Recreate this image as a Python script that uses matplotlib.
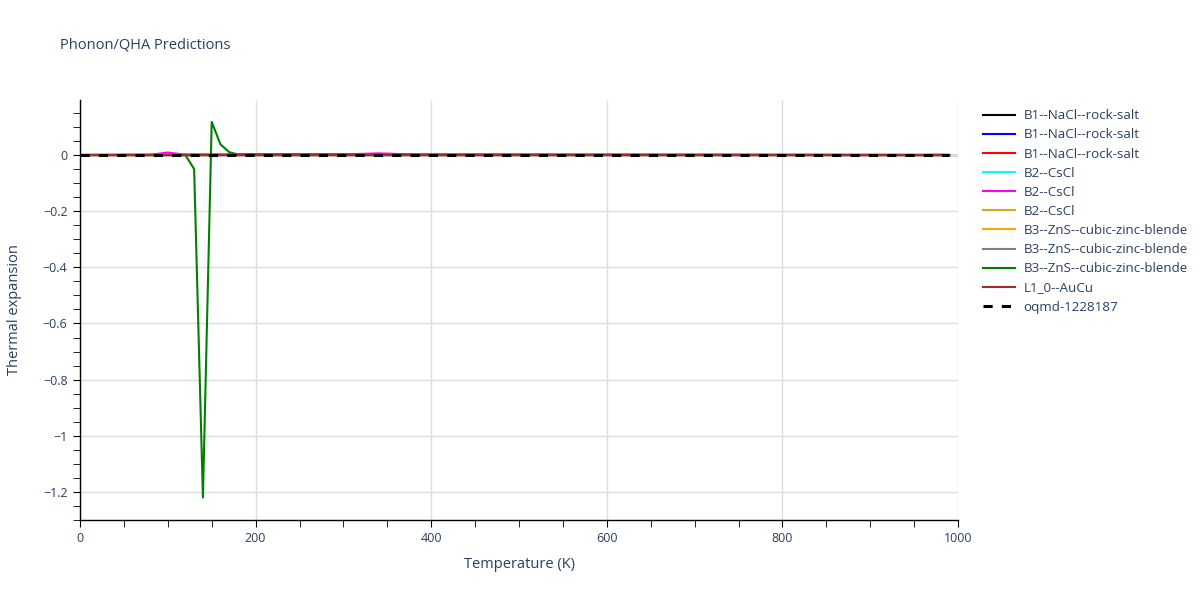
import numpy as np
import matplotlib.pyplot as plt
from matplotlib.ticker import MultipleLocator, FuncFormatter

plt.rcParams['font.family'] = ['Open Sans', 'DejaVu Sans']

# temperature vertices (K) and thermal expansion values for each structure
t_flat = [0, 990]
v_flat = [0.0, 0.0]

t_b2_magenta = [0, 80, 100, 120, 300, 340, 380, 990]
v_b2_magenta = [0.0, 0.001, 0.009, 0.001, 0.002, 0.006, 0.002, 0.0]

t_b3_orange = [0, 960, 980, 990]
v_b3_orange = [0.0, 0.0, 0.003, 0.0]

t_b3_gray = [0, 180, 250, 350, 400, 990]
v_b3_gray = [0.0, 0.003, 0.003, 0.003, 0.0, 0.0]

t_b3_green = [0, 110, 120, 130, 140, 150, 160, 170, 180, 990]
v_b3_green = [0.0, 0.0, 0.0, -0.05, -1.22, 0.118, 0.038, 0.01, 0.002, 0.0]

series = [
    ('B1--NaCl--rock-salt', 'black', t_flat, v_flat),
    ('B1--NaCl--rock-salt', 'blue', t_flat, v_flat),
    ('B1--NaCl--rock-salt', 'red', t_flat, v_flat),
    ('B2--CsCl', 'cyan', t_flat, v_flat),
    ('B2--CsCl', 'magenta', t_b2_magenta, v_b2_magenta),
    ('B2--CsCl', 'goldenrod', t_flat, v_flat),
    ('B3--ZnS--cubic-zinc-blende', 'orange', t_b3_orange, v_b3_orange),
    ('B3--ZnS--cubic-zinc-blende', 'gray', t_b3_gray, v_b3_gray),
    ('B3--ZnS--cubic-zinc-blende', 'green', t_b3_green, v_b3_green),
    ('L1_0--AuCu', 'brown', t_flat, v_flat),
]
ref_label = 'oqmd-1228187'

fig = plt.figure(figsize=(12, 6), dpi=100)
ax = fig.add_axes([80 / 1200, 80 / 600, 878 / 1200, 420 / 600])

txt = '#2a3f5f'
ax.axhline(0, color='#d0d0d0', lw=2, zorder=0)
for name, col, t, v in series:
    ax.plot(t, v, color=col, lw=1.5, label=name)
ax.plot(t_flat, v_flat, color='black', lw=2.2, dashes=(3, 3), label=ref_label)

ax.set_xlim(0, 1000)
ax.set_ylim(-1.3, 0.196)
ax.xaxis.set_major_locator(MultipleLocator(200))
ax.xaxis.set_minor_locator(MultipleLocator(50))
ax.yaxis.set_major_locator(MultipleLocator(0.2))
ax.yaxis.set_minor_locator(MultipleLocator(0.05))
ax.yaxis.set_major_formatter(FuncFormatter(
    lambda y, p: '0' if abs(y) < 1e-9 else ('%g' % round(y, 2)).replace('-', '\u2212')))
ax.grid(True, which='major', color='#dedede', lw=1)
ax.set_axisbelow(True)
for s in ['top', 'right']:
    ax.spines[s].set_visible(False)
for s in ['left', 'bottom']:
    ax.spines[s].set_color('black')
    ax.spines[s].set_linewidth(1)
ax.tick_params(which='major', length=5, color='black', labelsize=9, labelcolor=txt, pad=4)
ax.tick_params(which='minor', length=5, color='black')

ax.set_xlabel('Temperature (K)', fontsize=10.5, color=txt, labelpad=8)
ax.set_ylabel('Thermal expansion', fontsize=10.5, color=txt, labelpad=15)
fig.text(60 / 1200, 1 - 45 / 600, 'Phonon/QHA Predictions', fontsize=10.5, color=txt, va='center')

leg = ax.legend(loc='upper left', bbox_to_anchor=(978 / 1200, 1 - 104 / 600),
                bbox_transform=fig.transFigure, frameon=False, fontsize=9.6,
                handlelength=2.4, labelspacing=0.46, handletextpad=0.6, borderaxespad=0)
for t in leg.get_texts():
    t.set_color(txt)

fig.savefig('out.png', dpi=100)
